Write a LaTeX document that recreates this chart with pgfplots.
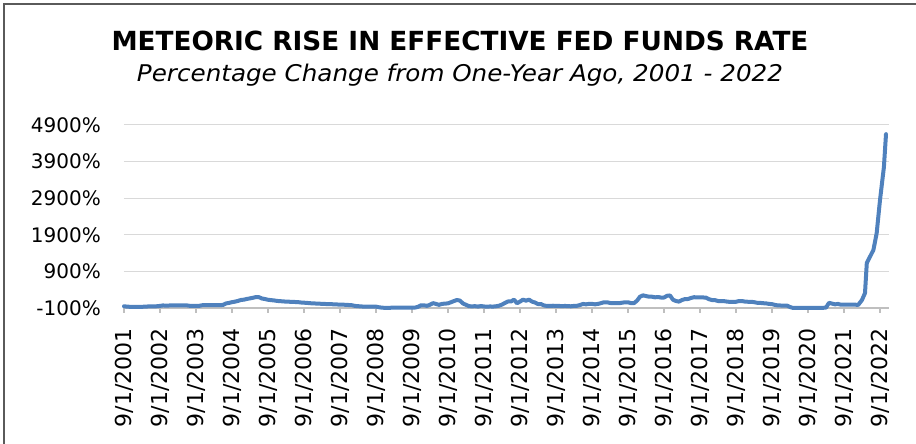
\documentclass[border=0pt]{standalone}
\usepackage{fontspec}
\setmainfont{DejaVu Sans}
\usepackage{graphicx}
\usepackage{pgfplots}
\pgfplotsset{compat=1.18}
\usepackage{pgfplotstable}
\definecolor{linec}{HTML}{4F81BD}
\definecolor{gridc}{HTML}{D9D9D9}
\definecolor{axisc}{HTML}{BFBFBF}
\definecolor{framec}{HTML}{5A5A5A}
% month index 0 = Sep 2001; value = % change from one year ago
\pgfplotstableread{
idx val
0 -53
1 -62
2 -68
3 -72
4 -71
5 -68
6 -67
7 -64
8 -58
9 -56
10 -54
11 -52
12 -43
13 -30
14 -36
15 -32
16 -28
17 -28
18 -28
19 -28
20 -28
21 -30
22 -42
23 -41
24 -42
25 -42
26 -25
27 -21
28 -19
29 -20
30 -20
31 -21
32 -21
33 -16
34 25
35 39
36 59
37 74
38 93
39 120
40 128
41 148
42 163
43 179
44 200
45 195
46 159
47 145
48 125
49 115
50 107
51 93
52 88
53 80
54 75
55 72
56 65
57 64
58 61
59 50
60 45
61 39
62 31
63 26
64 22
65 17
66 15
67 10
68 6
69 5
70 0
71 -4
72 -6
73 -9
74 -14
75 -19
76 -25
77 -43
78 -50
79 -57
80 -62
81 -62
82 -62
83 -60
84 -63
85 -80
86 -91
87 -96
88 -96
89 -93
90 -93
91 -93
92 -91
93 -90
94 -92
95 -92
96 -92
97 -88
98 -69
99 -25
100 -27
101 -41
102 -11
103 33
104 11
105 -14
106 13
107 19
108 27
109 58
110 90
111 120
112 100
113 23
114 -13
115 -50
116 -55
117 -50
118 -61
119 -47
120 -58
121 -63
122 -58
123 -61
124 -53
125 -38
126 -7
127 40
128 78
129 78
130 129
131 30
132 75
133 129
134 100
135 129
136 75
137 50
138 8
139 7
140 -31
141 -44
142 -44
143 -38
144 -43
145 -44
146 -50
147 -44
148 -50
149 -53
150 -43
151 -40
152 -18
153 11
154 0
155 12
156 12
157 0
158 12
159 33
160 57
161 57
162 37
163 33
164 33
165 30
166 44
167 56
168 56
169 33
170 33
171 100
172 209
173 245
174 227
175 208
176 208
177 192
178 200
179 186
180 186
181 233
182 242
183 125
184 91
185 74
186 119
187 143
188 146
189 174
190 195
191 190
192 188
193 188
194 183
195 141
196 117
197 115
198 91
199 88
200 87
201 75
202 66
203 65
204 70
205 90
206 90
207 75
208 70
209 69
210 60
211 43
212 41
213 31
214 26
215 12
216 5
217 -16
218 -30
219 -32
220 -35
221 -34
222 -73
223 -98
224 -98
225 -97
226 -96
227 -95
228 -96
229 -95
230 -94
231 -94
232 -94
233 -95
234 -89
235 40
236 20
237 0
238 11
239 -10
240 -11
241 -11
242 -11
243 -11
244 -11
244.7 -18
246 119
247 310
247.6 1130
248.1 1210
249.8 1485
250.9 1950
252 2850
253.3 3750
254 4650
}\ffdata
\begin{document}
\begin{tikzpicture}[x=1pt,y=1pt]
\path[use as bounding box] (0,0) rectangle (916,444);
\draw[framec, line width=2.6pt] (4,0) -- (4,440) -- (916,440);
\node[font=\bfseries\fontsize{26.3}{30}\selectfont, anchor=base, inner sep=0pt] at (460,393) {METEORIC RISE IN EFFECTIVE FED FUNDS RATE};
\node[font=\itshape\fontsize{23}{27}\selectfont, anchor=base, inner sep=0pt] at (460,362) {\scalebox{1.07}[1]{Percentage Change from One-Year Ago, 2001 - 2022}};
\begin{axis}[at={(124pt,136pt)}, anchor=south west, scale only axis,
  width=765pt, height=183pt,
  xmin=0, xmax=255, ymin=-100, ymax=4900,
  axis x line*=bottom, axis y line*=left,
  y axis line style={draw=none},
  x axis line style={axisc, line width=1.2pt, -},
  ytick={-100,900,1900,2900,3900,4900},
  yticklabels={-100\%,900\%,1900\%,2900\%,3900\%,4900\%},
  ytick style={draw=none},
  xtick={0,12,...,252},
  xticklabels={9/1/2001,9/1/2002,9/1/2003,9/1/2004,9/1/2005,9/1/2006,9/1/2007,9/1/2008,9/1/2009,9/1/2010,9/1/2011,9/1/2012,9/1/2013,9/1/2014,9/1/2015,9/1/2016,9/1/2017,9/1/2018,9/1/2019,9/1/2020,9/1/2021,9/1/2022},
  xtick style={axisc, line width=1.2pt},
  tick align=outside, major tick length=5pt,
  xticklabel style={rotate=90, anchor=east, inner sep=0pt, font=\fontsize{22}{22}\selectfont},
  xticklabel shift=15pt,
  yticklabel style={anchor=east, inner sep=0pt, font=\fontsize{20}{20}\selectfont},
  yticklabel shift=18pt,
  ymajorgrids, grid style={gridc, line width=1pt},
  clip=false,
]
\addplot[linec, line width=4pt, line join=round, line cap=round] table[x=idx, y=val] {\ffdata};
\end{axis}
\end{tikzpicture}
\end{document}
